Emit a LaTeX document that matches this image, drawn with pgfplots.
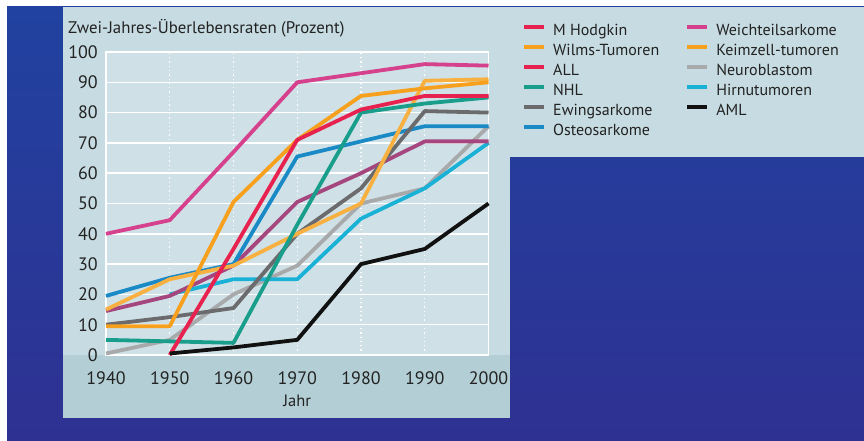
\documentclass[border=0pt]{standalone}
\usepackage{pgfplots}
\pgfplotsset{compat=1.18}
\usepackage{fontspec}
\setmainfont{PT Sans}
\definecolor{bluetop}{HTML}{2142A0}
\definecolor{bluebot}{HTML}{2E3192}
\definecolor{panel}{HTML}{C7DCE2}
\definecolor{panelband}{HTML}{B3CFD5}
\definecolor{plotbg}{HTML}{CFE1E6}
\definecolor{txt}{HTML}{222222}
\definecolor{cMagenta}{HTML}{D6418E}
\definecolor{cWilms}{HTML}{F6A01E}
\definecolor{cKeim}{HTML}{F8B040}
\definecolor{cRed}{HTML}{E8224F}
\definecolor{cTeal}{HTML}{1A9E8C}
\definecolor{cDGray}{HTML}{6B6B6E}
\definecolor{cBlue}{HTML}{1A8AC6}
\definecolor{cMauve}{HTML}{A5467F}
\definecolor{cLGray}{HTML}{A7A9AB}
\definecolor{cCyan}{HTML}{1AB1D6}
\definecolor{cBlack}{HTML}{111111}
\begin{document}
\begin{tikzpicture}[x=1pt,y=1pt]
\path[use as bounding box] (0,0) rectangle (864,440);
\fill[white] (0,0) rectangle (864,440);
\shade[top color=bluetop, bottom color=bluebot] (7,0) rectangle (864,433);
\fill[panel] (63,283) rectangle (864,433);
\fill[panel] (63,22) rectangle (510,433);
\fill[panelband] (63,22) rectangle (510,85);
\node[anchor=base west, font=\fontsize{16.8}{20}\selectfont, text=txt, inner sep=0pt] at (68,406) {Zwei-Jahres-Überlebensraten (Prozent)};
\begin{axis}[
  at={(106pt,85pt)}, anchor=south west,
  width=382.5pt, height=303pt, scale only axis,
  xmin=1940, xmax=2000, ymin=0, ymax=100,
  xtick={1940,1950,...,2000}, ytick={0,10,...,100},
  major tick length=0pt,
  clip=false,
  axis background/.style={fill=plotbg},
  axis line style={white, line width=1.5pt},
  ymajorgrids, xmajorgrids,
  y grid style={white, line width=1.5pt},
  x grid style={white, line width=1.3pt, dash pattern=on 1.3pt off 3pt},
  /pgf/number format/1000 sep={},
  /pgf/number format/assume math mode=true,
  tick label style={font=\fontsize{18}{21}\selectfont, text=txt},
  xticklabel style={inner sep=0pt, anchor=north, yshift=-16pt},
  yticklabel style={inner sep=0pt, anchor=east, xshift=-8pt},
  xlabel={Jahr},
  xlabel style={at={(axis description cs:0.5,0)}, anchor=base, yshift=-51pt, inner sep=0pt, font=\fontsize{16.5}{19}\selectfont, text=txt},
  legend style={draw=none, fill=none, inner sep=0pt,
    at={(axis description cs:1.0876,1.0924)}, anchor=north west,
    font=\fontsize{16}{19}\selectfont, text=txt,
    nodes={inner sep=0pt, text height=11.5pt, text depth=4pt},
    row sep=4.5pt,
    /tikz/every odd column/.append style={column sep=7pt},
    /tikz/every even column/.append style={column sep=26pt}},
  legend columns=2, legend cell align=left,
  legend image code/.code={\draw[#1, line width=4pt] (0pt,5pt) -- (20pt,5pt);},
  ln/.style={forget plot, no markers, line width=3.8pt, line join=round},
]
% Neuroblastom (light gray)
\addplot[ln, cLGray] coordinates {(1940,0.5) (1950,5) (1960,20) (1970,29.5) (1980,50) (1990,55) (2000,75.5)};
% Hirnutumoren (cyan)
\addplot[ln, cCyan] coordinates {(1950,20) (1960,25) (1970,25) (1980,45) (1990,55) (2000,70)};
% mauve
\addplot[ln, cMauve] coordinates {(1940,14.5) (1950,19.5) (1960,29.5) (1970,50.5) (1980,60) (1990,70.5) (2000,70.5)};
% Osteosarkome (blue)
\addplot[ln, cBlue] coordinates {(1940,19.5) (1950,25.5) (1960,30) (1970,65.5) (1980,70.5) (1990,75.5) (2000,75.5)};
% Ewingsarkome (dark gray)
\addplot[ln, cDGray] coordinates {(1940,10) (1950,12.5) (1960,15.5) (1970,40) (1980,55) (1990,80.5) (2000,80)};
% Keimzell-tumoren
\addplot[ln, cKeim] coordinates {(1940,15) (1950,25) (1960,29.5) (1970,40) (1980,50) (1990,90.5) (2000,91)};
% NHL (teal)
\addplot[ln, cTeal] coordinates {(1940,5) (1950,4.5) (1960,4) (1970,43) (1980,80) (1990,83) (2000,85)};
% Wilms-Tumoren
\addplot[ln, cWilms] coordinates {(1940,9.5) (1950,9.5) (1960,50.5) (1970,71) (1980,85.5) (1990,88) (2000,90)};
% ALL (red)
\addplot[ln, cRed] coordinates {(1950,0) (1960,35) (1970,71) (1980,81) (1990,85.5) (2000,85.5)};
% top magenta
\addplot[ln, cMagenta] coordinates {(1940,40) (1950,44.5) (1960,67) (1970,90) (1980,93) (1990,96) (2000,95.5)};
% AML (black)
\addplot[ln, cBlack] coordinates {(1950,0.5) (1960,2.5) (1970,5) (1980,30) (1990,35) (2000,50)};

\addlegendimage{color=cRed}\addlegendentry{M Hodgkin}
\addlegendimage{color=cMagenta}\addlegendentry{Weichteilsarkome}
\addlegendimage{color=cWilms}\addlegendentry{Wilms-Tumoren}
\addlegendimage{color=cWilms}\addlegendentry{Keimzell-tumoren}
\addlegendimage{color=cRed}\addlegendentry{ALL}
\addlegendimage{color=cLGray}\addlegendentry{Neuroblastom}
\addlegendimage{color=cTeal}\addlegendentry{NHL}
\addlegendimage{color=cCyan}\addlegendentry{Hirnutumoren}
\addlegendimage{color=cDGray}\addlegendentry{Ewingsarkome}
\addlegendimage{color=cBlack}\addlegendentry{AML}
\addlegendimage{color=cBlue}\addlegendentry{Osteosarkome}
\end{axis}
\end{tikzpicture}
\end{document}
